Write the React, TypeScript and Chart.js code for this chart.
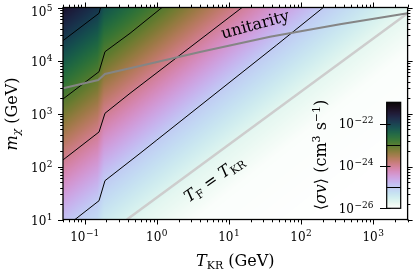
import React, { useEffect, useRef } from "react";
import { Chart, registerables } from "chart.js";

Chart.register(...registerables);

const FONT = '"DejaVu Serif", "Liberation Serif", serif';
const W = 416;
const H = 273;

// axes
const X_MIN = 0.05;
const X_MAX = 3000;
const Y_MIN = 10;
const Y_MAX = 1e5;
const xMajorExps = [-1, 0, 1, 2, 3];
const yMajorExps = [1, 2, 3, 4, 5];

// contour lines of <sigma v> (T_KR in GeV, m_chi in GeV)
const contour22T = [0.05, 0.158, 0.166];
const contour22M = [23700, 77800, 100000];
const contour23T = [0.05, 0.158, 0.191, 0.425, 1.18];
const contour23M = [1880, 6150, 14650, 32600, 100000];
const contour24T = [0.05, 0.158, 0.191, 0.425, 15.2];
const contour24M = [133, 448, 1009, 2404, 100000];
const contour25T = [0.0733, 0.158, 0.191, 0.585, 1.0, 45.9, 203];
const contour25M = [10, 22.6, 54, 177, 316, 19600, 100000];

// unitarity bound
const unitarityT = [0.05, 0.154, 0.191, 0.425, 3.96, 37.1, 346, 3000];
const unitarityM = [2985, 4285, 5560, 7130, 14450, 28100, 48200, 78000];

// T_F = T_KR line
const freezeT = [0.385, 3000];
const freezeM = [10, 78000];

// colour field: log10<sigma v> versus u = log10(m / T_KR)
const fieldU = [-3, 0.6, 1.4, 2.55, 3.7, 4.78, 5.81, 6.9];
const fieldLogSigma = [-26.05, -25.95, -25.7, -25, -24, -23, -22, -21];
const MASS_DRIFT = 0.07;
const QCD_SHIFT = 0.25;
const QCD_LOGT = [-0.81, -0.72];

// colorbar
const CB_MIN = -26;
const CB_MAX = -21;
const cbarTicks = [-22, -24, -26];
const cbarLines = [-23, -25];

function interp(v: number, xs: number[], ys: number[]) {
  if (v <= xs[0]) return ys[0];
  if (v >= xs[xs.length - 1]) return ys[ys.length - 1];
  for (let i = 1; i < xs.length; i++) {
    if (v <= xs[i]) {
      const t = (v - xs[i - 1]) / (xs[i] - xs[i - 1]);
      return ys[i - 1] + t * (ys[i] - ys[i - 1]);
    }
  }
  return ys[ys.length - 1];
}

function logSigma(lt: number, lm: number) {
  const u = lm - lt;
  let d: number;
  if (lt <= QCD_LOGT[0]) d = QCD_SHIFT;
  else if (lt >= QCD_LOGT[1]) d = 0;
  else d = (QCD_SHIFT * (QCD_LOGT[1] - lt)) / (QCD_LOGT[1] - QCD_LOGT[0]);
  const ue = u - MASS_DRIFT * (lm - 3) + d;
  return interp(ue, fieldU, fieldLogSigma);
}

function cubehelix(f: number) {
  const s = 0.5, r = -1.5, h = 1.0;
  const a = (h * f * (1 - f)) / 2;
  const phi = 2 * Math.PI * (s / 3 + r * f);
  const c = Math.cos(phi), sn = Math.sin(phi);
  const R = f + a * (-0.14861 * c + 1.78277 * sn);
  const G = f + a * (-0.29227 * c - 0.90649 * sn);
  const B = f + a * (1.97294 * c);
  const cl = (v: number) => Math.round(255 * Math.min(1, Math.max(0, v)));
  return `rgb(${cl(R)},${cl(G)},${cl(B)})`;
}

const LUT_N = 1000;
const LUT: string[] = [];
for (let i = 0; i <= LUT_N; i++) LUT.push(cubehelix(i / LUT_N));

function colorFor(v: number) {
  let f = (CB_MAX - v) / (CB_MAX - CB_MIN);
  f = Math.min(1, Math.max(0, f));
  return LUT[Math.round(f * LUT_N)];
}

type Seg = { t: string; size: number; italic?: boolean; dy?: number; dx?: number };

function segFont(s: Seg) {
  return `${s.italic ? "italic " : ""}${s.size}px ${FONT}`;
}

function drawRich(
  ctx: CanvasRenderingContext2D,
  segs: Seg[],
  x: number,
  y: number,
  angle: number,
  align: "left" | "center" | "right"
) {
  ctx.save();
  ctx.translate(x, y);
  ctx.rotate(angle);
  ctx.textAlign = "left";
  ctx.textBaseline = "alphabetic";
  ctx.fillStyle = "#000";
  const widths = segs.map((s) => {
    ctx.font = segFont(s);
    return ctx.measureText(s.t).width + (s.dx || 0);
  });
  const total = widths.reduce((p, c) => p + c, 0);
  let cx = align === "center" ? -total / 2 : align === "right" ? -total : 0;
  segs.forEach((s, i) => {
    ctx.font = segFont(s);
    ctx.fillText(s.t, cx + (s.dx || 0), s.dy || 0);
    cx += widths[i];
  });
  ctx.restore();
}

function expText(e: number) {
  return e < 0 ? "\u2212" + Math.abs(e) : String(e);
}

function powSegs(e: number): Seg[] {
  return [
    { t: "10", size: 12 },
    { t: expText(e), size: 9, dy: -5, dx: 0.5 },
  ];
}

function minorValues(min: number, max: number) {
  const out: { v: number; major: boolean }[] = [];
  for (let e = Math.floor(Math.log10(min)) - 1; e <= Math.ceil(Math.log10(max)); e++) {
    for (let k = 1; k <= 9; k++) {
      const v = k * Math.pow(10, e);
      if (v >= min * 0.9999 && v <= max * 1.0001) out.push({ v, major: k === 1 });
    }
  }
  return out;
}

const heatmapPlugin = {
  id: "heatmap",
  beforeDatasetsDraw(chart: any) {
    const { ctx, chartArea: a, scales } = chart;
    const xs = scales.x, ys = scales.y;
    const lx0 = Math.log10(X_MIN), lx1 = Math.log10(X_MAX);
    const ly0 = Math.log10(Y_MIN), ly1 = Math.log10(Y_MAX);
    const NX = Math.round(a.right - a.left);
    const NY = Math.round(a.bottom - a.top);
    ctx.save();
    for (let i = 0; i < NX; i++) {
      const la = lx0 + ((lx1 - lx0) * i) / NX;
      const lb = lx0 + ((lx1 - lx0) * (i + 1)) / NX;
      const lc = (la + lb) / 2;
      const p0 = Math.floor(xs.getPixelForValue(Math.pow(10, la)));
      const p1 = i === NX - 1 ? Math.ceil(a.right) : Math.floor(xs.getPixelForValue(Math.pow(10, lb)));
      if (p1 <= p0) continue;
      for (let j = 0; j < NY; j++) {
        const ma = ly0 + ((ly1 - ly0) * j) / NY;
        const mb = ly0 + ((ly1 - ly0) * (j + 1)) / NY;
        const mc = (ma + mb) / 2;
        const q0 = j === 0 ? Math.ceil(a.bottom) : Math.ceil(ys.getPixelForValue(Math.pow(10, ma)));
        const q1 = Math.ceil(ys.getPixelForValue(Math.pow(10, mb)));
        if (q0 <= q1) continue;
        ctx.fillStyle = colorFor(logSigma(lc, mc));
        ctx.fillRect(p0, q1, p1 - p0, q0 - q1);
      }
    }
    ctx.restore();
  },
};

const overlayPlugin = {
  id: "overlay",
  afterDraw(chart: any) {
    const { ctx, chartArea: a, scales } = chart;
    const xs = scales.x, ys = scales.y;
    ctx.save();

    // texts in plot
    drawRich(ctx, [{ t: "unitarity", size: 16 }], 256.5, 29.5, (-15.4 * Math.PI) / 180, "center");
    drawRich(
      ctx,
      [
        { t: "T", size: 16, italic: true },
        { t: "F", size: 11, dy: 3 },
        { t: " = ", size: 16 },
        { t: "T", size: 16, italic: true },
        { t: "KR", size: 11, dy: 3 },
      ],
      217,
      183,
      (-35 * Math.PI) / 180,
      "center"
    );

    // ticks
    ctx.strokeStyle = "#000";
    ctx.lineWidth = 1;
    ctx.beginPath();
    for (const t of minorValues(X_MIN, X_MAX)) {
      const p = Math.round(xs.getPixelForValue(t.v)) + 0.5;
      const len = t.major ? 5 : 2.8;
      ctx.moveTo(p, a.bottom);
      ctx.lineTo(p, a.bottom + len);
      ctx.moveTo(p, a.top);
      ctx.lineTo(p, a.top - len);
    }
    for (const t of minorValues(Y_MIN, Y_MAX)) {
      const p = Math.round(ys.getPixelForValue(t.v)) + 0.5;
      const len = t.major ? 5 : 2.8;
      ctx.moveTo(a.left, p);
      ctx.lineTo(a.left - len, p);
      ctx.moveTo(a.right, p);
      ctx.lineTo(a.right + len, p);
    }
    ctx.stroke();

    // frame
    ctx.lineWidth = 1.3;
    ctx.strokeRect(a.left, a.top, a.right - a.left, a.bottom - a.top);

    // tick labels
    for (const e of xMajorExps) {
      const p = xs.getPixelForValue(Math.pow(10, e));
      drawRich(ctx, powSegs(e), p, a.bottom + 21.2, 0, "center");
    }
    for (const e of yMajorExps) {
      const p = ys.getPixelForValue(Math.pow(10, e));
      drawRich(ctx, powSegs(e), a.left - 10.5, Math.max(p + 5, 16), 0, "right");
    }

    // axis titles
    drawRich(
      ctx,
      [
        { t: "T", size: 16, italic: true },
        { t: "KR", size: 11, dy: 3 },
        { t: " (GeV)", size: 16 },
      ],
      (a.left + a.right) / 2,
      266,
      0,
      "center"
    );
    drawRich(
      ctx,
      [
        { t: "m", size: 16, italic: true },
        { t: "\u03c7", size: 11, italic: true, dy: 3 },
        { t: " (GeV)", size: 16 },
      ],
      17,
      114,
      -Math.PI / 2,
      "center"
    );

    // colorbar
    const cbL = 386.7, cbR = 400.7, cbT = 102.3, cbB = 208.3;
    const cbY = (v: number) => cbT + ((CB_MAX - v) / (CB_MAX - CB_MIN)) * (cbB - cbT);
    const steps = Math.round(cbB - cbT);
    for (let i = 0; i < steps; i++) {
      const v0 = CB_MAX - ((CB_MAX - CB_MIN) * i) / steps;
      const v1 = CB_MAX - ((CB_MAX - CB_MIN) * (i + 1)) / steps;
      ctx.fillStyle = colorFor((v0 + v1) / 2);
      const y0 = cbY(v0), y1 = cbY(v1);
      ctx.fillRect(cbL, y0, cbR - cbL, y1 - y0 + 0.6);
    }
    ctx.strokeStyle = "#000";
    ctx.lineWidth = 1;
    ctx.beginPath();
    for (const v of cbarLines) {
      const p = Math.round(cbY(v)) + 0.5;
      ctx.moveTo(cbL, p);
      ctx.lineTo(cbR, p);
    }
    for (const v of cbarTicks) {
      const p = Math.round(cbY(v)) + 0.5;
      ctx.moveTo(380, p);
      ctx.lineTo(390.5, p);
    }
    ctx.stroke();
    ctx.lineWidth = 1.2;
    ctx.strokeRect(cbL, cbT, cbR - cbL, cbB - cbT);
    for (const v of cbarTicks) {
      drawRich(ctx, powSegs(v), 373.5, cbY(v) + 4.5, 0, "right");
    }
    drawRich(
      ctx,
      [
        { t: "\u27e8", size: 16 },
        { t: "\u03c3v", size: 16, italic: true },
        { t: "\u27e9", size: 16 },
        { t: " (cm", size: 16 },
        { t: "3", size: 11, dy: -6.5 },
        { t: " s", size: 16 },
        { t: "\u22121", size: 11, dy: -6.5 },
        { t: ")", size: 16 },
      ],
      326,
      155,
      -Math.PI / 2,
      "center"
    );

    ctx.restore();
  },
};

const mk = (T: number[], M: number[]) => T.map((t, i) => ({ x: t, y: M[i] }));

export default function App() {
  const ref = useRef<HTMLCanvasElement>(null);
  useEffect(() => {
    const canvas = ref.current!;
    const contours = [
      [contour22T, contour22M],
      [contour23T, contour23M],
      [contour24T, contour24M],
      [contour25T, contour25M],
    ];
    const lineDs = (T: number[], M: number[], color: string, width: number, order: number) => ({
      data: mk(T, M),
      showLine: true,
      borderColor: color,
      backgroundColor: color,
      borderWidth: width,
      pointRadius: 0,
      pointHoverRadius: 0,
      tension: 0,
      fill: false,
      order,
    });
    const chart = new Chart(canvas, {
      type: "scatter",
      data: {
        datasets: [
          lineDs(unitarityT, unitarityM, "#858585", 2, 0),
          lineDs(freezeT, freezeM, "#cdcdcd", 2.5, 1),
          ...contours.map(([T, M]) => lineDs(T, M, "#000000", 1, 2)),
        ],
      },
      options: {
        responsive: false,
        animation: false,
        events: [],
        devicePixelRatio: 1,
        layout: { padding: { left: 63, top: 7.5, right: 8.4, bottom: 53.5 } },
        plugins: { legend: { display: false }, tooltip: { enabled: false } },
        scales: {
          x: { type: "logarithmic", min: X_MIN, max: X_MAX, display: false },
          y: { type: "logarithmic", min: Y_MIN, max: Y_MAX, display: false },
        },
      },
      plugins: [heatmapPlugin, overlayPlugin],
    } as any);
    return () => chart.destroy();
  }, []);
  return (
    <div style={{ position: "fixed", left: 0, top: 0, width: W, height: H, background: "#fff" }}>
      <canvas ref={ref} width={W} height={H} style={{ display: "block", width: W, height: H }} />
    </div>
  );
}
